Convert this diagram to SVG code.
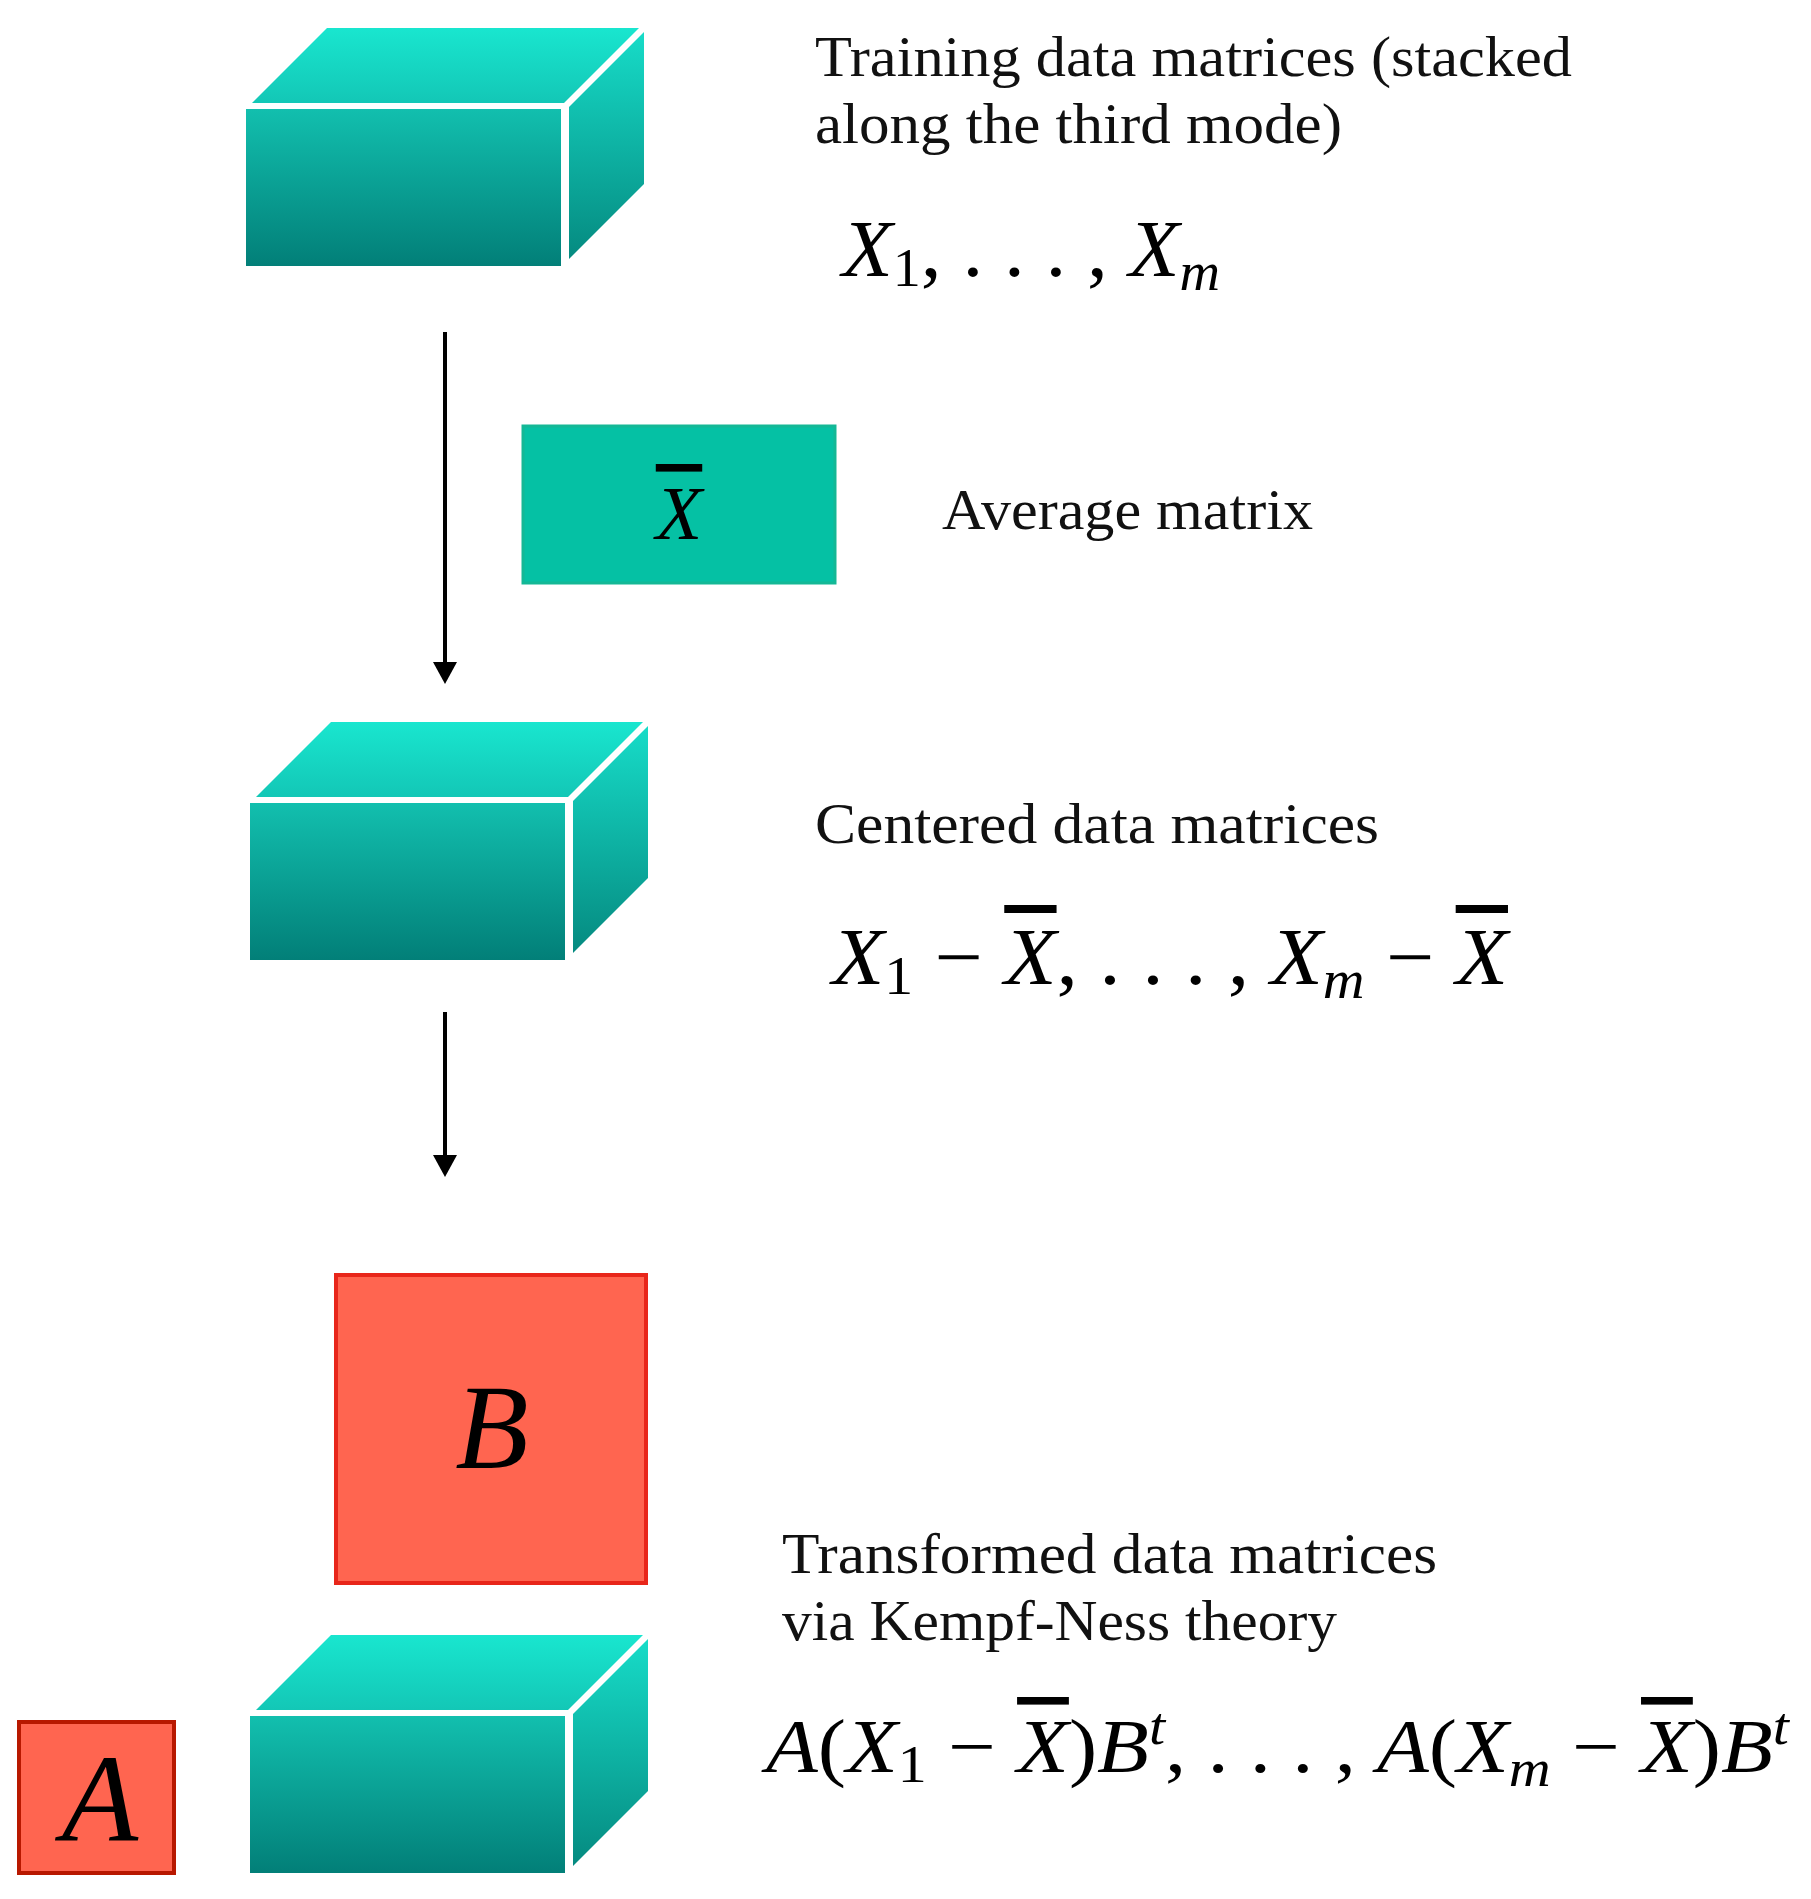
<svg xmlns="http://www.w3.org/2000/svg" width="1811" height="1899" viewBox="0 0 1811 1899">
<style>
.lbl{font-family:"Liberation Serif","DejaVu Serif",serif;font-size:56px;fill:#111}
.m{font-family:"Liberation Serif","DejaVu Serif",serif;font-style:italic;fill:#000}
.up{font-style:normal}
.ov{text-decoration:overline}
.conn{stroke:#000;stroke-width:4;fill:none}
</style>
<defs>
<linearGradient id="gt" x1="0" y1="0" x2="0" y2="1"><stop offset="0" stop-color="#19e6cf"/><stop offset="1" stop-color="#13c7b6"/></linearGradient>
<linearGradient id="gf" x1="0" y1="0" x2="0" y2="1"><stop offset="0" stop-color="#12bfae"/><stop offset="1" stop-color="#027f78"/></linearGradient>
<linearGradient id="gs" x1="0" y1="0" x2="0" y2="1"><stop offset="0" stop-color="#17dcc8"/><stop offset="1" stop-color="#058a80"/></linearGradient>
<g id="box">
<polygon points="253,-6 328,-81 640,-81 565,-6" fill="url(#gt)"/>
<rect x="247" y="0" width="315" height="157" fill="url(#gf)"/>
<polygon points="570,-2 645,-77 645,75 570,150" fill="url(#gs)"/>
</g>
</defs>
<g transform="translate(3,4)">
<g id="connectors">
<line class="conn" x1="442" y1="328" x2="442" y2="662"/>
<path d="M430,658 L454,658 L442,680 Z"/>
<line class="conn" x1="442" y1="1008" x2="442" y2="1153"/>
<path d="M430,1151 L454,1151 L442,1173 Z"/>
</g>
<g id="training"><use href="#box" transform="translate(-4,105)"/>
<text class="lbl" x="812" y="72" textLength="757" lengthAdjust="spacingAndGlyphs">Training data matrices (stacked</text>
<text class="lbl" x="812" y="139" textLength="527" lengthAdjust="spacingAndGlyphs">along the third mode)</text>
<text class="m" x="839" y="272" font-size="80" textLength="378" lengthAdjust="spacingAndGlyphs">X<tspan class="up" font-size="54" dy="10">1</tspan><tspan class="up" dy="-10">, . . . , </tspan>X<tspan font-size="54" dy="14">m</tspan></text>
</g>
<g id="average">
<rect x="520" y="422" width="312" height="157" fill="#05c1a4" stroke="#14b896" stroke-width="3"/>
<text class="m" x="676" y="535" font-size="76" text-anchor="middle"><tspan class="ov">X</tspan></text>
<text class="lbl" x="939" y="525" textLength="371" lengthAdjust="spacingAndGlyphs">Average matrix</text>
</g>
<g id="centered"><use href="#box" transform="translate(0,799)"/>
<text class="lbl" x="812" y="839" textLength="564" lengthAdjust="spacingAndGlyphs">Centered data matrices</text>
<text class="m" x="829" y="980" font-size="80" textLength="676" lengthAdjust="spacingAndGlyphs">X<tspan class="up" font-size="54" dy="10">1</tspan><tspan class="up" dy="-10"> − </tspan><tspan class="ov">X</tspan><tspan class="up">, . . . , </tspan>X<tspan font-size="54" dy="14">m</tspan><tspan class="up" dy="-14"> − </tspan><tspan class="ov">X</tspan></text>
</g>
<g id="B">
<rect x="333" y="1271" width="310" height="308" fill="#ff6550" stroke="#e8261a" stroke-width="4"/>
<text class="m" x="489" y="1464" font-size="120" text-anchor="middle">B</text>
</g>
<g id="transformed"><use href="#box" transform="translate(0,1712)"/>
<text class="lbl" x="779" y="1569" textLength="655" lengthAdjust="spacingAndGlyphs">Transformed data matrices</text>
<text class="lbl" x="779" y="1636" textLength="555" lengthAdjust="spacingAndGlyphs">via Kempf-Ness theory</text>
<text class="m" x="763" y="1768" font-size="76" textLength="1023" lengthAdjust="spacingAndGlyphs">A<tspan class="up">(</tspan>X<tspan class="up" font-size="52" dy="10">1</tspan><tspan class="up" dy="-10"> − </tspan><tspan class="ov">X</tspan><tspan class="up">)</tspan>B<tspan font-size="52" dy="-28">t</tspan><tspan class="up" dy="28">, . . . , </tspan>A<tspan class="up">(</tspan>X<tspan font-size="52" dy="14">m</tspan><tspan class="up" dy="-14"> − </tspan><tspan class="ov">X</tspan><tspan class="up">)</tspan>B<tspan font-size="52" dy="-28">t</tspan></text>
</g>
<g id="A">
<rect x="16" y="1718" width="155" height="151" fill="#ff6550" stroke="#b81800" stroke-width="4"/>
<text class="m" x="97" y="1837" font-size="125" text-anchor="middle">A</text>
</g>
</g>
</svg>
